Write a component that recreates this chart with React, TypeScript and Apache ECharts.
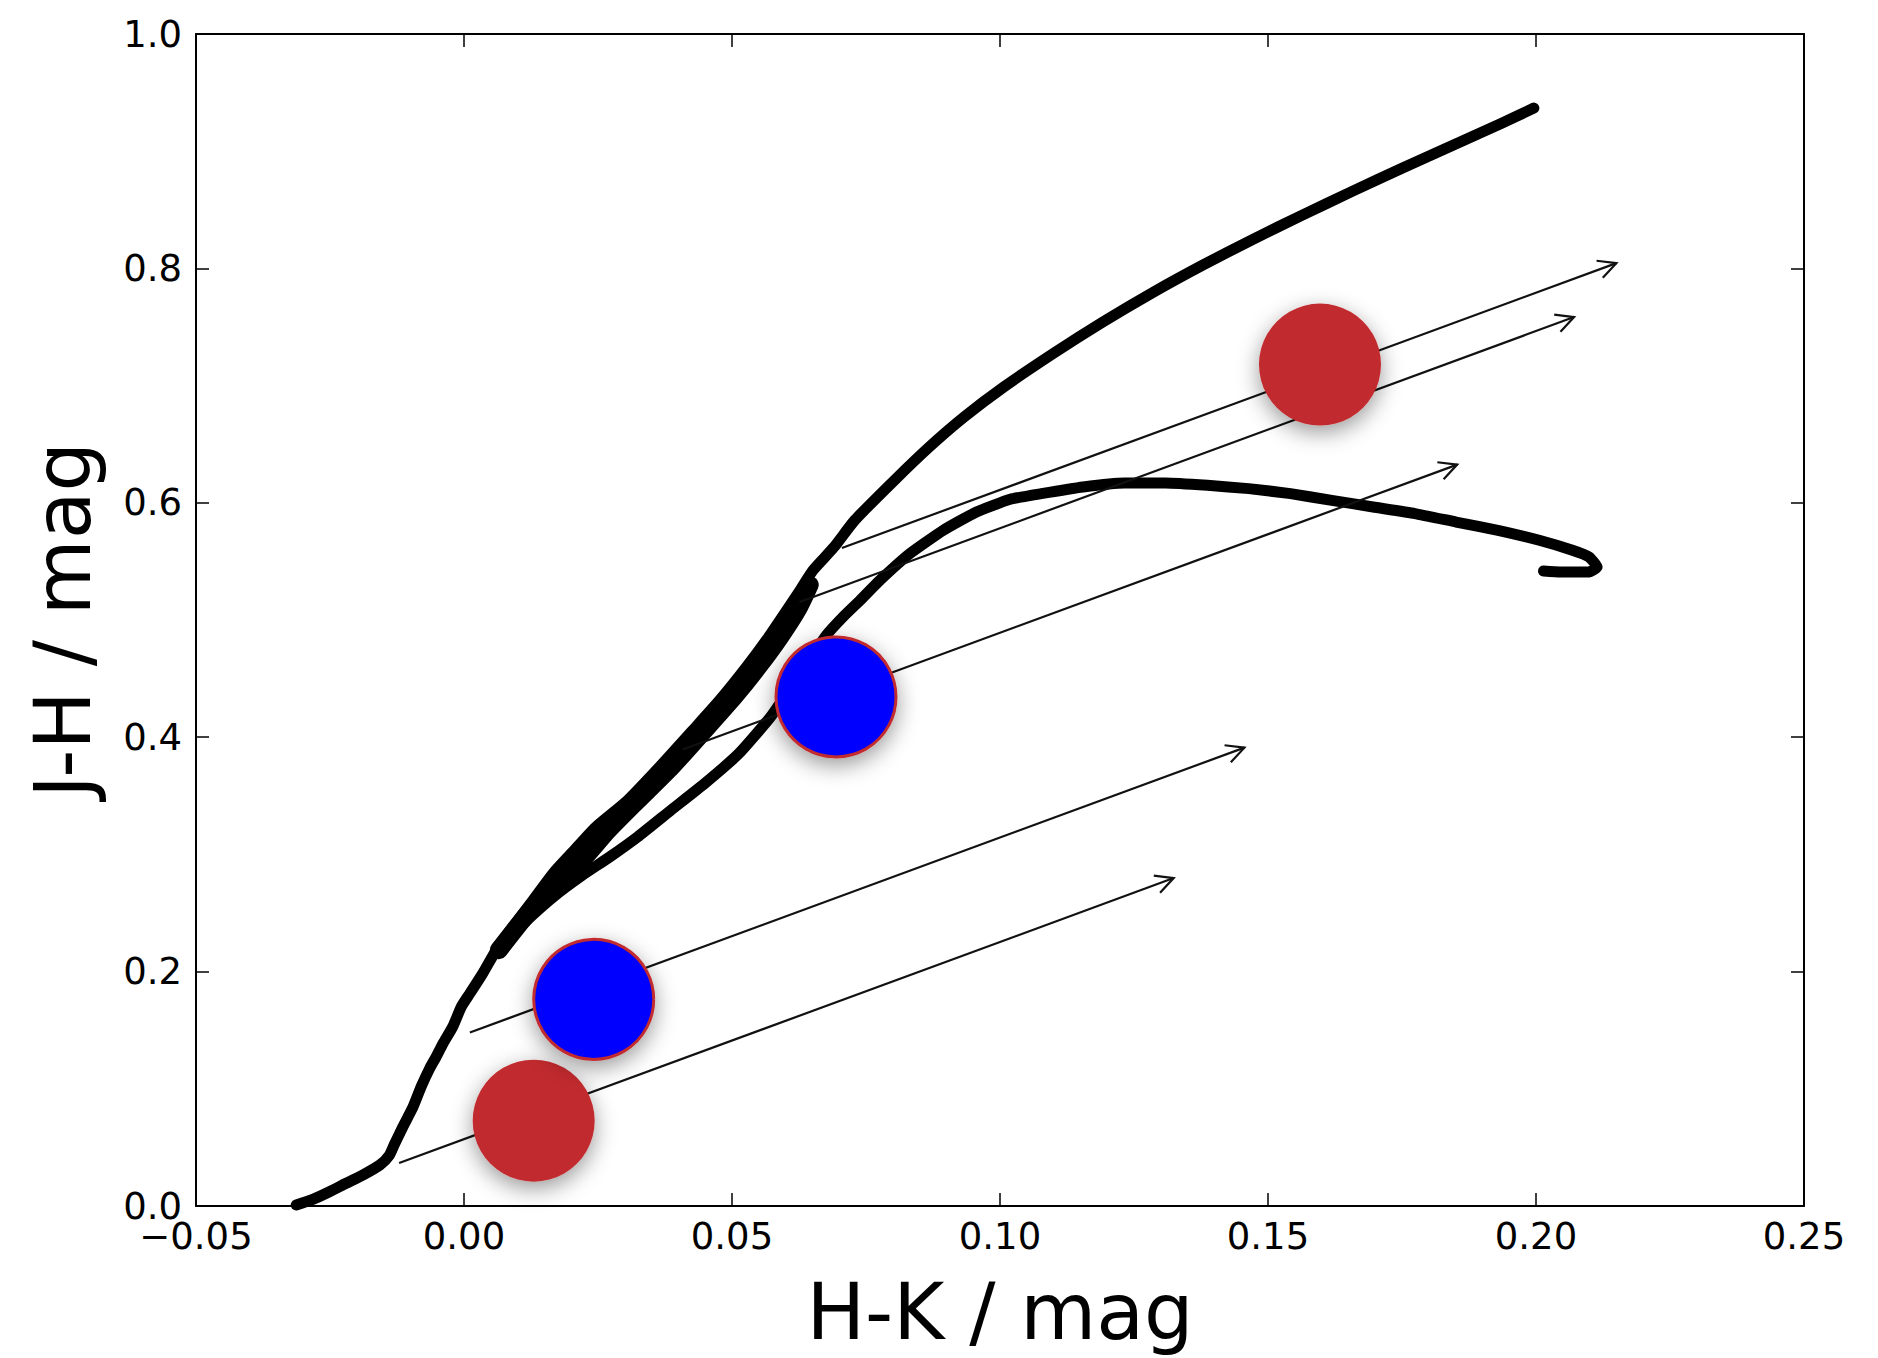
import React, { useEffect, useRef } from "react";
import * as echarts from "echarts";

// ---- Data (H-K, J-H in mag) ----
const upperHK = [-0.0313, -0.0282, -0.0251, -0.022, -0.0189, -0.0157, -0.0139, -0.0129, -0.0114, -0.0095, -0.008, -0.0064, -0.0052, -0.0039, -0.0021, -0.0005, 0.0011, 0.0035, 0.006, 0.0091, 0.0129, 0.0166, 0.0203, 0.0245, 0.0305, 0.0365, 0.0427, 0.0477, 0.0527, 0.0564, 0.0602, 0.0627, 0.0651, 0.069, 0.0729, 0.0803, 0.0868, 0.0933, 0.1007, 0.11, 0.1193, 0.1286, 0.1379, 0.1471, 0.1564, 0.1657, 0.175, 0.1843, 0.1936, 0.1996];
const upperJH = [0.0009, 0.0057, 0.0122, 0.0194, 0.0264, 0.035, 0.0435, 0.0535, 0.0676, 0.0847, 0.1017, 0.1174, 0.1273, 0.1388, 0.1529, 0.17, 0.1814, 0.1985, 0.2183, 0.2382, 0.261, 0.2838, 0.3022, 0.323, 0.346, 0.3747, 0.406, 0.4316, 0.46, 0.4827, 0.5083, 0.5254, 0.5424, 0.562, 0.5851, 0.6192, 0.6476, 0.6732, 0.6988, 0.7276, 0.7546, 0.7797, 0.803, 0.8246, 0.8455, 0.8657, 0.8854, 0.9047, 0.9238, 0.9368];

const middleHK = [0.0065, 0.0111, 0.0158, 0.022, 0.0268, 0.0322, 0.0388, 0.0447, 0.0505, 0.0549, 0.0589, 0.0624, 0.0645];
const middleJH = [0.2183, 0.245, 0.27, 0.295, 0.32, 0.345, 0.375, 0.405, 0.435, 0.46, 0.485, 0.51, 0.53];

const lowerHK = [0.006, 0.012, 0.017, 0.022, 0.0272, 0.0324, 0.0386, 0.0449, 0.0513, 0.0572, 0.0625, 0.0676, 0.0707, 0.0739, 0.0776, 0.0832, 0.0894, 0.0956, 0.1019, 0.1077, 0.1155, 0.1232, 0.1309, 0.1387, 0.1464, 0.1542, 0.1619, 0.1696, 0.1774, 0.1851, 0.1929, 0.2006, 0.2068, 0.2099, 0.2114, 0.2099, 0.2045, 0.2014];
const lowerJH = [0.2183, 0.245, 0.265, 0.282, 0.2979, 0.315, 0.3377, 0.3605, 0.3861, 0.4173, 0.4529, 0.487, 0.5026, 0.5168, 0.5339, 0.5567, 0.5765, 0.5922, 0.603, 0.6078, 0.6135, 0.6169, 0.6169, 0.6149, 0.6121, 0.6078, 0.6021, 0.5964, 0.5908, 0.5836, 0.5765, 0.568, 0.5595, 0.5538, 0.5452, 0.541, 0.541, 0.5418];

const arrowStartHK = [0.0705, 0.0626, 0.0408, 0.0011, -0.0121];
const arrowStartJH = [0.5614, 0.5154, 0.3895, 0.148, 0.0367];
const arrowEndHK = [0.215, 0.2071, 0.1853, 0.1456, 0.1324];
const arrowEndJH = [0.8045, 0.7585, 0.6326, 0.3911, 0.2798];

const redHK = [0.1597, 0.013];
const redJH = [0.7179, 0.0728];
const blueHK = [0.0694, 0.0242];
const blueJH = [0.4344, 0.1763];

const xTickLabels = (v: number) => v.toFixed(2).replace("-", "\u2212");
const yTickLabels = (v: number) => v.toFixed(1);

const zip = (a: number[], b: number[]) => a.map((x, i) => [x, b[i]]);

const FONT = "DejaVu Sans";

export default function App() {
  const ref = useRef<HTMLDivElement>(null);
  useEffect(() => {
    document.body.style.margin = "0";
    if (!ref.current) return;
    const chart = echarts.init(ref.current, null, { renderer: "svg" });

    const tickStyle = { inside: true, length: 13, lineStyle: { color: "#000", width: 1.5 } };
    const lineAx = { show: true, onZero: false, lineStyle: { color: "#000", width: 2 } };

    const curveStyle = { color: "#000", width: 11, cap: "round", join: "round" };
    const middleStyle = { color: "#000", width: 18, cap: "round", join: "round" };

    chart.setOption({
      animation: false,
      backgroundColor: "#fff",
      grid: { left: 196, right: 74, top: 34, bottom: 152, containLabel: false },
      xAxis: [
        {
          type: "value",
          min: -0.05,
          max: 0.25,
          interval: 0.05,
          position: "bottom",
          name: "H-K / mag",
          nameLocation: "middle",
          nameGap: 67,
          nameTextStyle: { fontFamily: FONT, fontSize: 78, color: "#000" },
          axisLine: lineAx,
          axisTick: tickStyle,
          axisLabel: { formatter: xTickLabels, fontFamily: FONT, fontSize: 37, color: "#000", margin: 12 },
          splitLine: { show: false },
        },
        {
          type: "value",
          min: -0.05,
          max: 0.25,
          interval: 0.05,
          position: "top",
          axisLine: lineAx,
          axisTick: tickStyle,
          axisLabel: { show: false },
          splitLine: { show: false },
        },
      ],
      yAxis: [
        {
          type: "value",
          min: 0,
          max: 1,
          interval: 0.2,
          position: "left",
          name: "J-H / mag",
          nameLocation: "middle",
          nameGap: 94,
          nameRotate: 90,
          nameTextStyle: { fontFamily: FONT, fontSize: 78, color: "#000" },
          axisLine: lineAx,
          axisTick: tickStyle,
          axisLabel: { formatter: yTickLabels, fontFamily: FONT, fontSize: 37, color: "#000", margin: 14 },
          splitLine: { show: false },
        },
        {
          type: "value",
          min: 0,
          max: 1,
          interval: 0.2,
          position: "right",
          axisLine: lineAx,
          axisTick: tickStyle,
          axisLabel: { show: false },
          splitLine: { show: false },
        },
      ],
      series: [
        { type: "line", data: zip(upperHK, upperJH), showSymbol: false, symbol: "none", smooth: 0.2, lineStyle: curveStyle, z: 2 },
        { type: "line", data: zip(middleHK, middleJH), showSymbol: false, symbol: "none", smooth: 0.2, lineStyle: middleStyle, z: 2 },
        { type: "line", data: zip(lowerHK, lowerJH), showSymbol: false, symbol: "none", smooth: 0.15, lineStyle: curveStyle, z: 2 },
        {
          type: "custom",
          coordinateSystem: "cartesian2d",
          z: 3,
          data: arrowStartHK.map((x, i) => [x, arrowStartJH[i], arrowEndHK[i], arrowEndJH[i]]),
          encode: { x: [0, 2], y: [1, 3] },
          renderItem: (params: any, api: any) => {
            const p0 = api.coord([api.value(0), api.value(1)]);
            const p1 = api.coord([api.value(2), api.value(3)]);
            const ang = Math.atan2(p1[1] - p0[1], p1[0] - p0[0]);
            const L = 20;
            const a = (27 * Math.PI) / 180;
            const h1 = [p1[0] - L * Math.cos(ang - a), p1[1] - L * Math.sin(ang - a)];
            const h2 = [p1[0] - L * Math.cos(ang + a), p1[1] - L * Math.sin(ang + a)];
            return {
              type: "group",
              children: [
                { type: "line", shape: { x1: p0[0], y1: p0[1], x2: p1[0], y2: p1[1] }, style: { stroke: "#111", lineWidth: 2.2 } },
                { type: "polyline", shape: { points: [h1, p1, h2] }, style: { stroke: "#111", lineWidth: 2.2, fill: null } },
              ],
            };
          },
        },
        {
          type: "scatter",
          z: 5,
          data: zip(redHK, redJH),
          symbol: "circle",
          symbolSize: 122,
          itemStyle: {
            color: "#c12c2e",
            opacity: 1,
            shadowBlur: 22,
            shadowOffsetY: 7,
            shadowColor: "rgba(0,0,0,0.4)",
          },
        },
        {
          type: "scatter",
          z: 5,
          data: zip(blueHK, blueJH),
          symbol: "circle",
          symbolSize: 120,
          itemStyle: {
            color: "#0000ff",
            opacity: 1,
            borderColor: "#c12c2e",
            borderWidth: 3,
            shadowBlur: 22,
            shadowOffsetY: 7,
            shadowColor: "rgba(0,0,0,0.4)",
          },
        },
      ],
    });
    return () => chart.dispose();
  }, []);
  return <div ref={ref} style={{ width: 1878, height: 1358 }} />;
}
